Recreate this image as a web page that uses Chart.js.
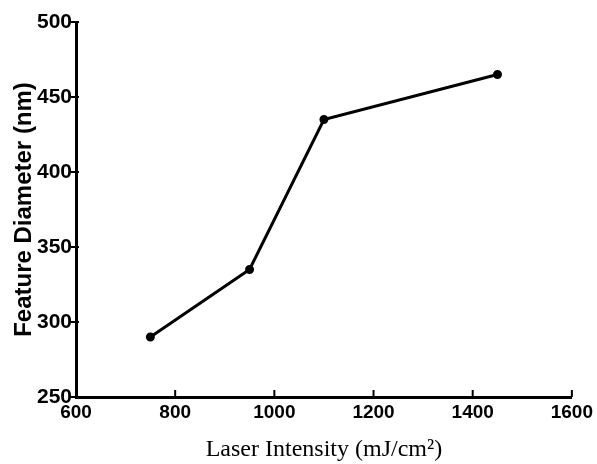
<!DOCTYPE html>
<html>
<head>
<meta charset="utf-8">
<script src="https://cdn.jsdelivr.net/npm/chart.js@4.4.0/dist/chart.umd.min.js"></script>
<style>
  html, body { margin: 0; padding: 0; background: #fff; }
  #wrap { width: 597px; height: 464px; position: relative; }
</style>
</head>
<body>
<div id="wrap"><canvas id="chart"></canvas></div>
<script>
// data
const intensity = [750, 950, 1100, 1450];
const diameter = [290, 335, 435, 465];
const xTicks = [600, 800, 1000, 1200, 1400, 1600];
const yTicks = [250, 300, 350, 400, 450, 500];

const tickFont = '"Liberation Sans", Arial, sans-serif';

// small tick marks: x ones point up into the plot, y ones cross the axis
const tickMarks = {
  id: 'tickMarks',
  afterDraw(chart) {
    const { ctx, scales: { x, y } } = chart;
    ctx.save();
    ctx.strokeStyle = '#000';
    ctx.lineWidth = 2;
    xTicks.forEach((v) => {
      const px = x.getPixelForValue(v);
      ctx.beginPath();
      ctx.moveTo(px, y.bottom);
      ctx.lineTo(px, y.bottom - 7);
      ctx.stroke();
    });
    yTicks.forEach((v) => {
      const py = y.getPixelForValue(v);
      ctx.beginPath();
      ctx.moveTo(x.left - 5, py);
      ctx.lineTo(x.left + 3, py);
      ctx.stroke();
    });
    ctx.restore();
  },
};

new Chart(document.getElementById('chart'), {
  type: 'line',
  data: {
    datasets: [{
      data: intensity.map((v, i) => ({ x: v, y: diameter[i] })),
      borderColor: '#000',
      backgroundColor: '#000',
      borderWidth: 3,
      pointRadius: 3,
      tension: 0,
    }],
  },
  options: {
    responsive: true,
    maintainAspectRatio: false,
    animation: false,
    layout: { padding: { left: 0, right: 22, top: 22, bottom: 0 } },
    plugins: { legend: { display: false }, tooltip: { enabled: false } },
    scales: {
      x: {
        type: 'linear',
        min: 600,
        max: 1600,
        afterBuildTicks: (s) => { s.ticks = xTicks.map((v) => ({ value: v })); },
        afterFit: (s) => { s.height = 67; },
        border: { display: true, color: '#000', width: 3 },
        grid: { display: false, drawTicks: false },
        ticks: {
          color: '#000',
          padding: 4,
          maxRotation: 0,
          callback: (v) => String(v),
          font: { family: tickFont, size: 19, weight: 'bold' },
        },
        title: {
          display: true,
          text: 'Laser Intensity (mJ/cm²)',
          color: '#000',
          padding: { top: 2, bottom: 0 },
          font: { family: '"Liberation Serif", "Times New Roman", serif', size: 24 },
        },
      },
      y: {
        min: 250,
        max: 500,
        afterBuildTicks: (s) => { s.ticks = yTicks.map((v) => ({ value: v })); },
        afterFit: (s) => { s.width = 76; },
        border: { display: true, color: '#000', width: 3 },
        grid: { display: false, drawTicks: false },
        ticks: {
          color: '#000',
          padding: 4,
          callback: (v) => String(v),
          font: { family: tickFont, size: 21, weight: 'bold' },
        },
        title: {
          display: true,
          text: 'Feature Diameter (nm)',
          color: '#000',
          padding: { top: 10, bottom: 0 },
          font: { family: '"Liberation Sans", Arial, sans-serif', size: 24, weight: 'bold' },
        },
      },
    },
  },
  plugins: [tickMarks],
});
</script>
</body>
</html>
